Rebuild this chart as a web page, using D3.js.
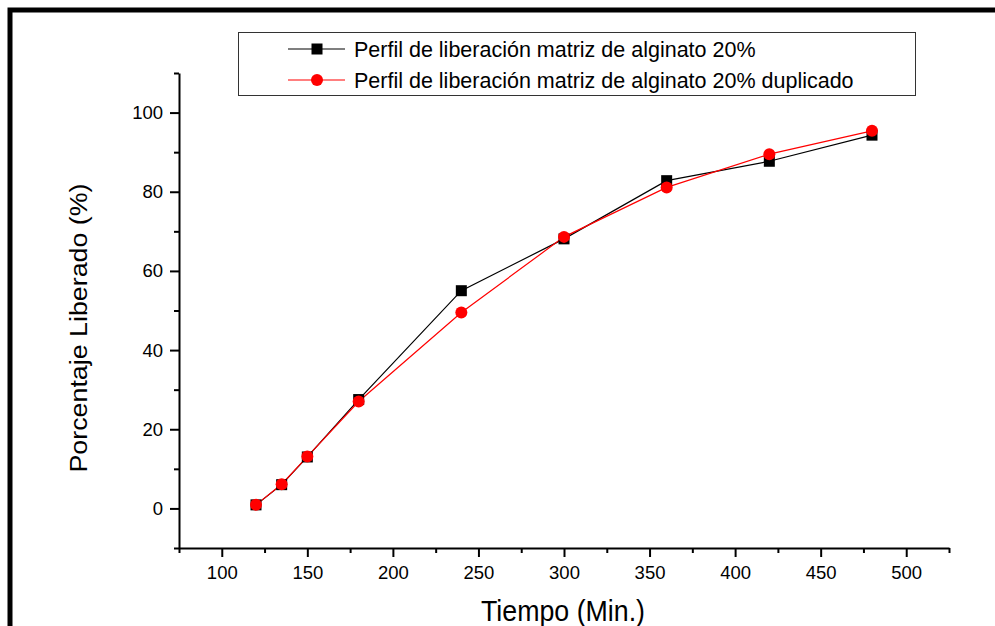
<!DOCTYPE html>
<html>
<head>
<meta charset="utf-8">
<script src="https://cdn.jsdelivr.net/npm/d3@7"></script>
<style>
  body { margin: 0; background: #fff; }
  svg { display: block; font-family: "Liberation Sans", Arial, sans-serif; }
</style>
</head>
<body>
<div id="chart"></div>
<script>
// time (min)
const tiempo = [120, 135, 150, 180, 240, 300, 360, 420, 480];
// % released, first run and duplicate
const serieA = [0.9, 6.0, 13.0, 27.5, 55.0, 68.1, 82.8, 87.7, 94.3];
const serieB = [0.9, 6.1, 13.1, 27.0, 49.5, 68.6, 81.1, 89.5, 95.4];
const nombres = [
  "Perfil de liberación matriz de alginato 20%",
  "Perfil de liberación matriz de alginato 20% duplicado"
];
const xMajor = [100, 150, 200, 250, 300, 350, 400, 450, 500];
const xMinor = [75, 125, 175, 225, 275, 325, 375, 425, 475, 525];
const yMajor = [0, 20, 40, 60, 80, 100];
const yMinor = [-10, 10, 30, 50, 70, 90, 110];

const W = 995, H = 626;
const plot = { left: 179, right: 949, top: 73, bottom: 548 };

const svg = d3.select("#chart").append("svg")
  .attr("width", W)
  .attr("height", H);

// outer frame (only top and left visible)
svg.append("rect")
  .attr("x", 10).attr("y", 10)
  .attr("width", 1100).attr("height", 800)
  .attr("fill", "none")
  .attr("stroke", "#000")
  .attr("stroke-width", 5);

const x = d3.scaleLinear().domain([75, 525]).range([plot.left, plot.right]);
const y = d3.scaleLinear().domain([-10, 110]).range([plot.bottom, plot.top]);

function styleAxis(g) {
  g.select(".domain").attr("stroke-width", 2).attr("stroke", "#000");
  g.selectAll(".tick line").attr("stroke-width", 2).attr("stroke", "#000");
  g.selectAll(".tick text").attr("fill", "#000").style("font-size", "18.5px");
}

// x axis
svg.append("g")
  .attr("transform", `translate(0,${plot.bottom})`)
  .call(d3.axisBottom(x).tickValues(xMinor).tickSize(5).tickSizeOuter(0).tickFormat(""))
  .call(styleAxis);
svg.append("g")
  .attr("transform", `translate(0,${plot.bottom})`)
  .call(d3.axisBottom(x).tickValues(xMajor).tickSize(9).tickSizeOuter(0).tickPadding(9).tickFormat(d3.format("d")))
  .call(styleAxis)
  .call(g => g.select(".domain").remove());

// y axis
svg.append("g")
  .attr("transform", `translate(${plot.left},0)`)
  .call(d3.axisLeft(y).tickValues(yMinor).tickSize(5).tickSizeOuter(0).tickFormat(""))
  .call(styleAxis);
svg.append("g")
  .attr("transform", `translate(${plot.left},0)`)
  .call(d3.axisLeft(y).tickValues(yMajor).tickSize(9).tickSizeOuter(0).tickPadding(7).tickFormat(d3.format("d")))
  .call(styleAxis)
  .call(g => g.select(".domain").remove());

// axis titles
svg.append("text")
  .attr("x", 563).attr("y", 621)
  .attr("text-anchor", "middle")
  .attr("textLength", 164)
  .attr("lengthAdjust", "spacingAndGlyphs")
  .style("font-size", "30px")
  .text("Tiempo (Min.)");

svg.append("text")
  .attr("transform", "translate(87,328) rotate(-90)")
  .attr("text-anchor", "middle")
  .attr("textLength", 289)
  .attr("lengthAdjust", "spacingAndGlyphs")
  .style("font-size", "23px")
  .text("Porcentaje Liberado (%)");

// series
const series = [
  { name: nombres[0], values: serieA, color: "#000", shape: "square" },
  { name: nombres[1], values: serieB, color: "#ff0000", shape: "circle" }
];

const line = d3.line()
  .x((d, i) => x(tiempo[i]))
  .y(d => y(d));

function drawMarker(sel, shape, color) {
  if (shape === "square") {
    sel.append("rect")
      .attr("x", -5.5).attr("y", -5.5)
      .attr("width", 11).attr("height", 11)
      .attr("fill", color);
  } else {
    sel.append("circle")
      .attr("r", 6)
      .attr("fill", color);
  }
}

series.forEach(s => {
  svg.append("path")
    .datum(s.values)
    .attr("fill", "none")
    .attr("stroke", s.color)
    .attr("stroke-width", 1.2)
    .attr("d", line);
});

series.forEach(s => {
  svg.append("g").selectAll("g")
    .data(s.values)
    .join("g")
    .attr("transform", (d, i) => `translate(${x(tiempo[i])},${y(d)})`)
    .each(function () { drawMarker(d3.select(this), s.shape, s.color); });
});

// legend
const legend = svg.append("g");
legend.append("rect")
  .attr("x", 238.5).attr("y", 32.5)
  .attr("width", 677).attr("height", 63)
  .attr("fill", "#fff")
  .attr("stroke", "#333")
  .attr("stroke-width", 1);

const rowY = [49, 80];
series.forEach((s, i) => {
  const g = legend.append("g").attr("transform", `translate(0,${rowY[i]})`);
  g.append("line")
    .attr("x1", 288).attr("x2", 345)
    .attr("stroke", s.color)
    .attr("stroke-width", 1.2);
  drawMarker(g.append("g").attr("transform", "translate(317,0)"), s.shape, s.color);
  g.append("text")
    .attr("x", 354).attr("y", 7.5)
    .style("font-size", "21.5px")
    .text(s.name);
});
</script>
</body>
</html>
